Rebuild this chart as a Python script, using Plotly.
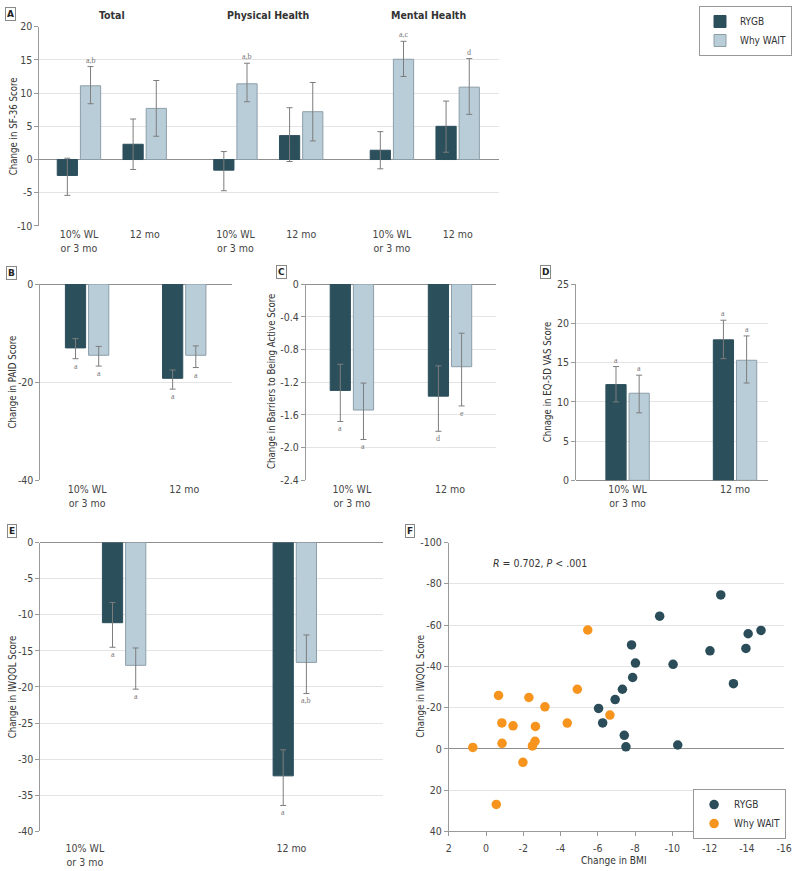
import plotly.graph_objects as go

# ---------------- data ----------------
times = ["10% WL<br>or 3 mo", "12 mo"]

# Panel A: SF-36
a_groups = ["Total", "Physical Health", "Mental Health"]
a_rygb = [-2.4, 2.3, -1.6, 3.6, 1.4, 5.0]
a_rygb_lo = [-5.4, -1.5, -4.7, -0.3, -1.4, 1.1]
a_rygb_hi = [0.2, 6.1, 1.2, 7.8, 4.2, 8.8]
a_rygb_notes = ["", "", "", "", "", ""]
a_wait = [11.1, 7.7, 11.4, 7.2, 15.1, 10.9]
a_wait_lo = [8.4, 3.5, 8.7, 2.8, 12.5, 6.8]
a_wait_hi = [14.0, 11.9, 14.5, 11.6, 17.8, 15.2]
a_wait_notes = ["a,b", "", "a,b", "", "a,c", "d"]
a_ticks = [-10, -5, 0, 5, 10, 15, 20]

# Panel B: PAID
b_rygb = [-13.0, -19.2]
b_rygb_lo = [-15.2, -21.4]
b_rygb_hi = [-11.1, -17.5]
b_rygb_notes = ["a", "a"]
b_wait = [-14.5, -14.5]
b_wait_lo = [-16.7, -17.0]
b_wait_hi = [-12.7, -12.6]
b_wait_notes = ["a", "a"]
b_ticks = [-40, -20, 0]

# Panel C: Barriers to Being Active
c_rygb = [-1.30, -1.37]
c_rygb_lo = [-1.68, -1.80]
c_rygb_hi = [-0.98, -1.00]
c_rygb_notes = ["a", "d"]
c_wait = [-1.54, -1.01]
c_wait_lo = [-1.90, -1.49]
c_wait_hi = [-1.21, -0.60]
c_wait_notes = ["a", "e"]
c_ticks = [-2.4, -2.0, -1.6, -1.2, -0.8, -0.4, 0]
c_ticktext = ["-2.4", "-2.0", "-1.6", "-1.2", "-0.8", "-0.4", "0"]

# Panel D: EQ-5D VAS
d_rygb = [12.2, 17.9]
d_rygb_lo = [10.0, 15.5]
d_rygb_hi = [14.5, 20.4]
d_rygb_notes = ["a", "a"]
d_wait = [11.1, 15.3]
d_wait_lo = [8.6, 12.4]
d_wait_hi = [13.4, 18.4]
d_wait_notes = ["a", "a"]
d_ticks = [0, 5, 10, 15, 20, 25]

# Panel E: IWQOL
e_rygb = [-11.1, -32.3]
e_rygb_lo = [-14.5, -36.4]
e_rygb_hi = [-8.3, -28.7]
e_rygb_notes = ["a", "a"]
e_wait = [-17.0, -16.6]
e_wait_lo = [-20.3, -20.9]
e_wait_hi = [-14.6, -12.8]
e_wait_notes = ["a", "a,b"]
e_ticks = [-40, -35, -30, -25, -20, -15, -10, -5, 0]

# Panel F: scatter
f_rygb_bmi = [-6.04, -6.26, -6.93, -7.32, -7.42, -7.51, -7.81, -7.87, -8.02,
              -9.32, -10.04, -10.29, -12.02, -12.60, -13.28, -13.95, -14.07, -14.76]
f_rygb_iwqol = [-19.6, -12.6, -23.9, -28.9, -6.6, -1.0, -50.4, -34.6, -41.6,
                -64.3, -41.0, -1.9, -47.5, -74.6, -31.6, -48.7, -55.8, -57.4]
f_wait_bmi = [0.71, -0.67, -0.85, -0.86, -0.55, -1.45, -1.98, -2.30, -2.49,
              -2.63, -2.65, -3.16, -4.36, -4.90, -5.46, -6.65]
f_wait_iwqol = [-0.7, -25.9, -12.6, -2.7, 26.9, -11.2, 6.5, -24.9, -1.45,
                -3.7, -10.9, -20.4, -12.5, -28.9, -57.6, -16.4]
f_xticks = [2, 0, -2, -4, -6, -8, -10, -12, -14, -16]
f_yticks = [-100, -80, -60, -40, -20, 0, 20, 40]

# ---------------- style ----------------
W, H = 800, 871
DARK = "#2c4f5c"
LIGHT = "#b9cdd8"
LIGHT_EDGE = "#8c9ea8"
ORANGE = "#f7941d"
GRID = "#e4e4e4"
AXIS = "#9a9a9a"
ZERO = "#8f8f8f"
ERR = "#7d7d7d"
TXT = "#333333"
FONT = "Liberation Sans Narrow, DejaVu Sans Condensed, Arial Narrow, Roboto, sans-serif"
FS = 10.5
TITLE_FS = 9.6
TICKF = dict(family=FONT, size=FS, color="#444")
NOTEF = dict(family="Liberation Serif, DejaVu Serif, serif", size=8, color="#777")


def fx(x):
    return x / W


def fy(y):
    return 1 - y / H


def hyph(v):
    return ("%g" % v).replace("\u2212", "-")


fig = go.Figure()
annotations = []

# panel geometry in pixels: (left, right, top, bottom) and x ranges
panels = {
    "A": dict(ax="", box=(37, 503, 21, 223), xr=[-0.6, 6.39]),
    "B": dict(ax="2", box=(38, 232, 282, 481), xr=[-0.48, 1.49]),
    "C": dict(ax="3", box=(307, 500, 282, 481), xr=[-0.47, 1.47]),
    "D": dict(ax="4", box=(581, 776, 282, 481), xr=[-0.48, 1.31]),
    "E": dict(ax="5", box=(38, 385, 544, 837), xr=[-0.49, 1.515]),
    "F": dict(ax="6", box=(452, 792, 544, 837), xr=[2, -16]),
}
BAR_PX = 20.5
GAP_PX = 1.5


def add_bars(key, xpos, series, show_legend=False):
    p = panels[key]
    l, r, t, b = p["box"]
    ppu = (r - l) / (p["xr"][1] - p["xr"][0])
    w = BAR_PX / ppu
    offs = [-(BAR_PX + GAP_PX) / ppu, GAP_PX / ppu]
    for (name, vals, lo, hi, notes, col, edge), off in zip(series, offs):
        fig.add_trace(go.Bar(
            x=xpos, y=vals, name=name, width=w, offset=off,
            xaxis="x" + p["ax"], yaxis="y" + p["ax"],
            marker=dict(color=col, line=dict(color=edge, width=1)),
            error_y=dict(type="data", symmetric=False,
                         array=[h - v for v, h in zip(vals, hi)],
                         arrayminus=[v - lo_ for v, lo_ in zip(vals, lo)],
                         color=ERR, thickness=1, width=3),
            showlegend=show_legend, legend="legend",
        ))
        for xp, v, lo_, hi_, note in zip(xpos, vals, lo, hi, notes):
            if not note:
                continue
            up = v > 0
            annotations.append(dict(
                x=xp + off + w / 2, y=hi_ if up else lo_,
                xref="x" + p["ax"], yref="y" + p["ax"],
                text=note, showarrow=False, font=NOTEF, xanchor="center",
                yanchor="bottom" if up else "top", yshift=0 if up else -1))


def series(rv, rlo, rhi, rn, wv, wlo, whi, wn):
    return [("RYGB", rv, rlo, rhi, rn, DARK, DARK),
            ("Why WAIT", wv, wlo, whi, wn, LIGHT, LIGHT_EDGE)]


# Panel A positions: groups of two time points
GROUP_STEP = 2.38
a_pos = [g * GROUP_STEP + t for g in range(len(a_groups)) for t in range(len(times))]
add_bars("A", a_pos, series(a_rygb, a_rygb_lo, a_rygb_hi, a_rygb_notes,
                            a_wait, a_wait_lo, a_wait_hi, a_wait_notes), show_legend=True)
idx = list(range(len(times)))
add_bars("B", idx, series(b_rygb, b_rygb_lo, b_rygb_hi, b_rygb_notes,
                          b_wait, b_wait_lo, b_wait_hi, b_wait_notes))
add_bars("C", idx, series(c_rygb, c_rygb_lo, c_rygb_hi, c_rygb_notes,
                          c_wait, c_wait_lo, c_wait_hi, c_wait_notes))
add_bars("D", idx, series(d_rygb, d_rygb_lo, d_rygb_hi, d_rygb_notes,
                          d_wait, d_wait_lo, d_wait_hi, d_wait_notes))
add_bars("E", idx, series(e_rygb, e_rygb_lo, e_rygb_hi, e_rygb_notes,
                          e_wait, e_wait_lo, e_wait_hi, e_wait_notes))

# Panel F scatter
fig.add_trace(go.Scatter(x=f_rygb_bmi, y=f_rygb_iwqol, mode="markers", name="RYGB",
                         marker=dict(color="#2b4c59", size=9.5), xaxis="x6", yaxis="y6",
                         legend="legend2"))
fig.add_trace(go.Scatter(x=f_wait_bmi, y=f_wait_iwqol, mode="markers", name="Why WAIT",
                         marker=dict(color=ORANGE, size=9.5), xaxis="x6", yaxis="y6",
                         legend="legend2"))

layout = dict(width=W, height=H, margin=dict(l=0, r=0, t=0, b=0),
              paper_bgcolor="white", plot_bgcolor="white",
              font=dict(family=FONT, color=TXT), barmode="overlay")


def yaxis(key, rng, tv, tt):
    l, r, t, b = panels[key]["box"]
    ax = panels[key]["ax"]
    return dict(domain=[fy(b), fy(t)], range=rng, anchor="x" + ax,
                tickvals=tv, ticktext=tt, tickfont=TICKF,
                showgrid=True, gridcolor=GRID, gridwidth=1,
                zeroline=True, zerolinecolor=ZERO, zerolinewidth=1,
                showline=True, linecolor=AXIS, linewidth=1,
                ticks="outside", ticklen=4, tickcolor=AXIS)


def xaxis(key, tv, tt, ticks="", standoff=0):
    l, r, t, b = panels[key]["box"]
    ax = panels[key]["ax"]
    return dict(domain=[fx(l), fx(r)], range=panels[key]["xr"], anchor="y" + ax,
                tickvals=tv, ticktext=tt, tickfont=TICKF, showgrid=False,
                zeroline=False, showline=False, ticks=ticks, ticklen=4, tickcolor=AXIS,
                ticklabelstandoff=standoff)


layout["xaxis"] = xaxis("A", a_pos, times * len(a_groups), standoff=1)
layout["yaxis"] = yaxis("A", [-10, 20], a_ticks, [hyph(v) for v in a_ticks])
layout["xaxis2"] = xaxis("B", idx, times, standoff=1)
layout["yaxis2"] = yaxis("B", [-40, 0], b_ticks, [hyph(v) for v in b_ticks])
layout["xaxis3"] = xaxis("C", idx, times, standoff=1)
layout["yaxis3"] = yaxis("C", [-2.4, 0], c_ticks, c_ticktext)
layout["xaxis4"] = xaxis("D", idx, times, standoff=1)
layout["yaxis4"] = yaxis("D", [0, 25], d_ticks, [hyph(v) for v in d_ticks])
layout["xaxis5"] = xaxis("E", [-0.23, 0.98], times, standoff=9)
layout["yaxis5"] = yaxis("E", [-40, 0], e_ticks, [hyph(v) for v in e_ticks])
layout["xaxis6"] = xaxis("F", f_xticks, [hyph(v) for v in f_xticks], ticks="outside", standoff=3)
layout["xaxis6"].update(showline=True, linecolor=AXIS)
layout["yaxis6"] = yaxis("F", [40, -100], f_yticks, [hyph(v) for v in f_yticks])

# legends
layout["legend"] = dict(x=1, y=1, xanchor="right", yanchor="top",
                        bgcolor="white", bordercolor="#999", borderwidth=1,
                        font=dict(family=FONT, size=10, color=TXT),
                        itemwidth=30, tracegroupgap=2)
layout["legend2"] = dict(x=fx(794), y=fy(794), xanchor="right", yanchor="top",
                         bgcolor="white", bordercolor="#999", borderwidth=1,
                         font=dict(family=FONT, size=10, color=TXT),
                         itemwidth=30, tracegroupgap=0)

# group titles in panel A
for g, name in enumerate(a_groups):
    annotations.append(dict(x=g * GROUP_STEP + 0.5 + (0.06 if g == 2 else 0), y=fy(9),
                            xref="x", yref="paper", xanchor="center", yanchor="middle",
                            text=name, showarrow=False,
                            font=dict(family=FONT, size=10.5, color=TXT, weight=600)))

# axis titles
ytitles = [("Change in SF-36 Score", 10, 122),
           ("Change in PAID Score", 10, 381),
           ("Change in Barriers to Being Active Score", 273, 381),
           ("Chnage in EQ-5D VAS Score", 552, 381),
           ("Change in IWQOL Score", 10, 690),
           ("Change in IWQOL Score", 423, 690)]
for text, x, y in ytitles:
    annotations.append(dict(x=fx(x), y=fy(y), xref="paper", yref="paper", text=text,
                            textangle=-90, showarrow=False, xanchor="center", yanchor="middle",
                            font=dict(family=FONT, size=TITLE_FS, color=TXT)))
annotations.append(dict(x=fx(620), y=fy(866), xref="paper", yref="paper",
                        xanchor="center", yanchor="middle",
                        text="Change in BMI", showarrow=False,
                        font=dict(family=FONT, size=TITLE_FS + 0.5, color=TXT)))
annotations.append(dict(x=fx(495), y=fy(565), xref="paper", yref="paper",
                        xanchor="left", yanchor="middle",
                        text="<i>R</i> = 0.702, <i>P</i> < .001", showarrow=False,
                        font=dict(family=FONT, size=FS, color=TXT)))

# panel letters
for letter, x, y in [("A", 8, 8), ("B", 9, 271), ("C", 282, 270), ("D", 550, 270),
                     ("E", 9, 532), ("F", 413, 532)]:
    annotations.append(dict(x=fx(x), y=fy(y), xref="paper", yref="paper", text=letter,
                            showarrow=False, bordercolor="#888", borderwidth=1, borderpad=1,
                            bgcolor="white", xanchor="center", yanchor="middle",
                            font=dict(family="DejaVu Sans, sans-serif", size=9, color="#222",
                                      weight="bold")))

layout["annotations"] = annotations
fig.update_layout(**layout)
fig.write_html("out.html", config={"displayModeBar": False},
               post_script="document.body.style.margin='0';document.body.style.overflow='hidden';")
